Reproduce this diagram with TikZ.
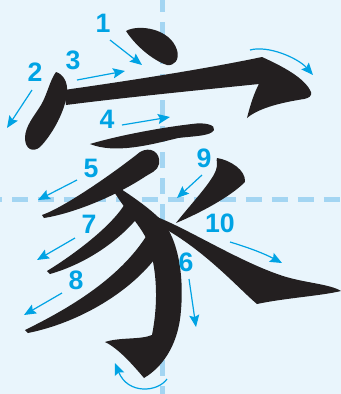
\documentclass[tikz,border=0pt]{standalone}
\usepackage{fontspec}
\setmainfont{Liberation Sans}
\usetikzlibrary{arrows.meta}
\definecolor{paperblue}{RGB}{233,245,252}
\definecolor{guideblue}{RGB}{163,213,242}
\definecolor{stepblue}{RGB}{0,163,228}
\definecolor{inkblack}{RGB}{35,31,32}

\begin{document}
\begin{tikzpicture}[x=0.75pt, y=-0.75pt,
  num/.style={text=stepblue, font=\bfseries\fontsize{20}{20}\selectfont, inner sep=0pt},
  hint/.style={draw=stepblue, line width=0.9pt, -{Stealth[length=9pt,width=7.5pt,inset=1.5pt]}},
  guide/.style={draw=guideblue, line width=3.75pt, dash pattern=on 12pt off 7.5pt}]
\fill[paperblue] (0,0) rectangle (341,394);
\useasboundingbox (0,0) rectangle (341,394);
\begin{scope}
\clip (0,0) rectangle (341,394);
\draw[guide] (-14,199) -- (350,199);
\draw[guide] (163,-4) -- (163,400);
\end{scope}
\fill[inkblack] (126,31) .. controls (138,24) and (170,28) .. (177,50) .. controls (180,60) and (174,66) .. (167,65) .. controls (152,60) and (135,45) .. (126,31) -- cycle;
\fill[inkblack] (56,72) .. controls (63,74) and (68,82) .. (67,92) .. controls (66,110) and (52,135) .. (40,147) .. controls (33,153) and (25,149) .. (25,138) .. controls (25,126) and (35,115) .. (41,105) .. controls (47,95) and (50,80) .. (56,72) -- cycle;
\fill[inkblack] (64,90) .. controls (120,82) and (200,70) .. (262,57) .. controls (282,66) and (305,78) .. (311,92) .. controls (312,96) and (309,98) .. (304,99) .. controls (285,102) and (260,107) .. (247,118) .. controls (250,106) and (254,93) .. (259,84) .. controls (200,90) and (120,98) .. (66,105) -- cycle;
\fill[inkblack] (90,144) .. controls (120,135) and (165,127) .. (192,124) .. controls (205,122) and (216,125) .. (214,130) .. controls (211,136) and (195,136) .. (178,138) .. controls (150,145) and (115,154) .. (90,144) -- cycle;
\fill[inkblack] (42,215) .. controls (65,207) and (115,172) .. (140,152) .. controls (150,146) and (161,152) .. (159,164) .. controls (158,171) and (150,173) .. (143,178) .. controls (115,196) and (75,213) .. (44,218) -- cycle;
\fill[inkblack] (115,185) .. controls (130,195) and (150,208) .. (163,222) .. controls (178,240) and (184,275) .. (181,310) .. controls (179,340) and (166,365) .. (144,378) .. controls (133,365) and (118,348) .. (105,342) .. controls (120,337) and (140,340) .. (152,335) .. controls (158,305) and (158,270) .. (147,240) .. controls (140,225) and (125,210) .. (113,190) -- cycle;
\fill[inkblack] (47,271) .. controls (70,257) and (112,227) .. (126,202) -- (139,216) .. controls (118,242) and (85,264) .. (50,274) -- cycle;
\fill[inkblack] (25,330) .. controls (70,308) and (120,278) .. (147,235) -- (157,256) .. controls (132,290) and (82,322) .. (28,333) -- cycle;
\fill[inkblack] (217,158) .. controls (230,160) and (246,170) .. (245,182) .. controls (230,197) and (200,213) .. (176,223) .. controls (190,205) and (212,182) .. (216,170) .. controls (218,165) and (216,160) .. (217,158) -- cycle;
\fill[inkblack] (157,217) .. controls (190,230) and (240,262) .. (283,276) .. controls (305,283) and (330,284) .. (341,291) .. controls (320,296) and (285,298) .. (257,304) .. controls (240,290) and (205,250) .. (160,226) -- cycle;
\node[num] (n1) at (103,23) {1};
\node[num] (n2) at (35,72) {2};
\node[num] (n3) at (73,60) {3};
\node[num] (n4) at (107,119) {4};
\node[num] (n5) at (91,168) {5};
\node[num] (n6) at (186,262) {6};
\node[num] (n7) at (89,224) {7};
\node[num] (n8) at (76,280) {8};
\node[num] (n9) at (204,158) {9};
\node[num] (n10) at (220,223) {10};
\coordinate (s1) at (110,40);  \coordinate (e1) at (142,65);
\coordinate (s2) at (32,90);   \coordinate (e2) at (7,128);
\coordinate (s3) at (77,80);   \coordinate (e3) at (125,71);
\coordinate (s4) at (122,125); \coordinate (e4) at (170,117);
\coordinate (s5) at (77,180);  \coordinate (e5) at (38,200);
\coordinate (s6) at (189,279); \coordinate (e6) at (196,327);
\coordinate (s7) at (75,238);  \coordinate (e7) at (37,260);
\coordinate (s8) at (62,293);  \coordinate (e8) at (24,315);
\coordinate (s9) at (202,175); \coordinate (e9) at (177,198);
\coordinate (s10) at (230,242); \coordinate (e10) at (282,263);
\coordinate (hooka) at (250,50); \coordinate (hookb) at (313,75);
\coordinate (hookc) at (167,379); \coordinate (hookd) at (115,363);
\foreach \k in {1,...,9} {
  \draw[hint] (s\k) -- (e\k);
}
\draw[hint] (s10) .. controls (250,248) and (265,254) .. (e10);
\draw[hint] (hooka) .. controls (268,45) and (298,58) .. (hookb);
\draw[hint] (hookc) .. controls (158,392) and (128,395) .. (hookd);
\end{tikzpicture}
\end{document}
